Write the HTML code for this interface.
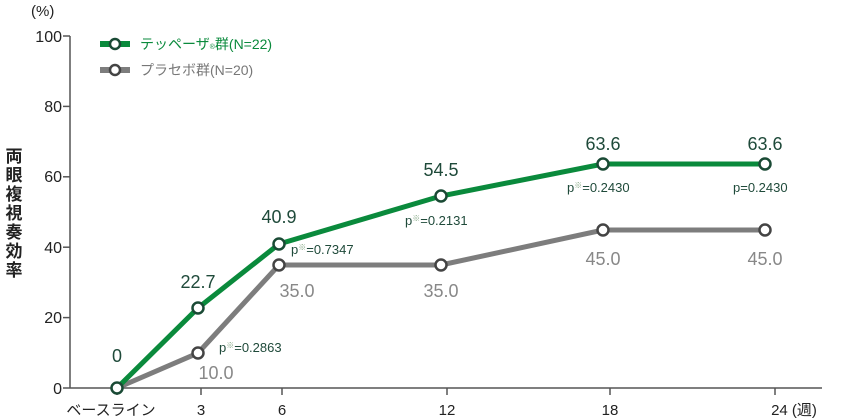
<!DOCTYPE html>
<html><head><meta charset="utf-8"><style>
html,body{margin:0;padding:0;background:#fff;}
svg{display:block;font-family:"Liberation Sans","Noto Sans CJK JP",sans-serif;}
</style></head><body>
<svg width="846" height="420" viewBox="0 0 846 420">
<g stroke="#555" stroke-width="1.5" fill="none">
<line x1="70" y1="36" x2="70" y2="388"/>
<line x1="70" y1="388" x2="822" y2="388"/>
<line x1="63" y1="36" x2="70" y2="36"/>
<line x1="63" y1="106.4" x2="70" y2="106.4"/>
<line x1="63" y1="176.8" x2="70" y2="176.8"/>
<line x1="63" y1="247.2" x2="70" y2="247.2"/>
<line x1="63" y1="317.6" x2="70" y2="317.6"/>
<line x1="63" y1="388" x2="70" y2="388"/>
<line x1="117" y1="388" x2="117" y2="395"/>
<line x1="201" y1="388" x2="201" y2="395"/>
<line x1="282" y1="388" x2="282" y2="395"/>
<line x1="447" y1="388" x2="447" y2="395"/>
<line x1="610" y1="388" x2="610" y2="395"/>
<line x1="775" y1="388" x2="775" y2="395"/>
</g>
<g font-size="16" fill="#222" text-anchor="end">
<text x="62" y="42">100</text>
<text x="62" y="112">80</text>
<text x="62" y="182">60</text>
<text x="62" y="253">40</text>
<text x="62" y="323">20</text>
<text x="62" y="394">0</text>
</g>
<text x="31" y="16" font-size="15" fill="#222">(%)</text>
<g font-size="15" fill="#222" text-anchor="middle">
<text x="111" y="415">ベースライン</text>
<text x="201" y="415">3</text>
<text x="282" y="415">6</text>
<text x="447" y="415">12</text>
<text x="610" y="415">18</text>
<text x="794" y="415">24 (週)</text>
</g>
<g font-size="17" font-weight="bold" fill="#222" text-anchor="middle">
<text x="14" y="162">両</text><text x="14" y="181">眼</text><text x="14" y="200">複</text><text x="14" y="219">視</text><text x="14" y="238">奏</text><text x="14" y="257">効</text><text x="14" y="276">率</text>
</g>
<line x1="100" y1="44" x2="130" y2="44" stroke="#0a8a3c" stroke-width="6"/>
<circle cx="115" cy="44" r="5" fill="#fff" stroke="#1a4a35" stroke-width="2.5"/>
<text x="140" y="49" font-size="14" fill="#0a8a3c">テッペーザ<tspan font-size="7">®</tspan>群(N=22)</text>
<line x1="100" y1="70" x2="130" y2="70" stroke="#7d7d7d" stroke-width="6"/>
<circle cx="115" cy="70" r="5" fill="#fff" stroke="#444" stroke-width="2.5"/>
<text x="140" y="75" font-size="14" fill="#777">プラセボ群(N=20)</text>
<polyline points="117,388 198,353 279,265 441,265 603,230 765,230" fill="none" stroke="#7d7d7d" stroke-width="5"/>
<polyline points="117,388 198,308 279,244 441,196 603,164 765,164" fill="none" stroke="#0a8a3c" stroke-width="5"/>
<g fill="#fff" stroke="#444" stroke-width="2.5">
<circle cx="198" cy="353" r="5.5"/><circle cx="279" cy="265" r="5.5"/><circle cx="441" cy="265" r="5.5"/><circle cx="603" cy="230" r="5.5"/><circle cx="765" cy="230" r="5.5"/>
</g>
<g fill="#fff" stroke="#1a4a35" stroke-width="2.5">
<circle cx="117" cy="388" r="5.5"/><circle cx="198" cy="308" r="5.5"/><circle cx="279" cy="244" r="5.5"/><circle cx="441" cy="196" r="5.5"/><circle cx="603" cy="164" r="5.5"/><circle cx="765" cy="164" r="5.5"/>
</g>
<g font-size="18" fill="#1f4a3a" text-anchor="middle">
<text x="117" y="362">0</text>
<text x="198" y="288">22.7</text>
<text x="279" y="223">40.9</text>
<text x="441" y="176">54.5</text>
<text x="603" y="150">63.6</text>
<text x="765" y="150">63.6</text>
</g>
<g font-size="18" fill="#888" text-anchor="middle">
<text x="216" y="379">10.0</text>
<text x="297" y="297">35.0</text>
<text x="441" y="297">35.0</text>
<text x="603" y="265">45.0</text>
<text x="765" y="265">45.0</text>
</g>
<g font-size="13" fill="#1f4a3a">
<text x="219" y="352">p<tspan font-size="8" dy="-4" fill="#8a8">※</tspan><tspan dy="4">=0.2863</tspan></text>
<text x="291" y="254">p<tspan font-size="8" dy="-4" fill="#8a8">※</tspan><tspan dy="4">=0.7347</tspan></text>
<text x="405" y="225">p<tspan font-size="8" dy="-4" fill="#8a8">※</tspan><tspan dy="4">=0.2131</tspan></text>
<text x="567" y="192">p<tspan font-size="8" dy="-4" fill="#8a8">※</tspan><tspan dy="4">=0.2430</tspan></text>
<text x="733" y="192">p=0.2430</text>
</g>
</svg>
</body></html>
